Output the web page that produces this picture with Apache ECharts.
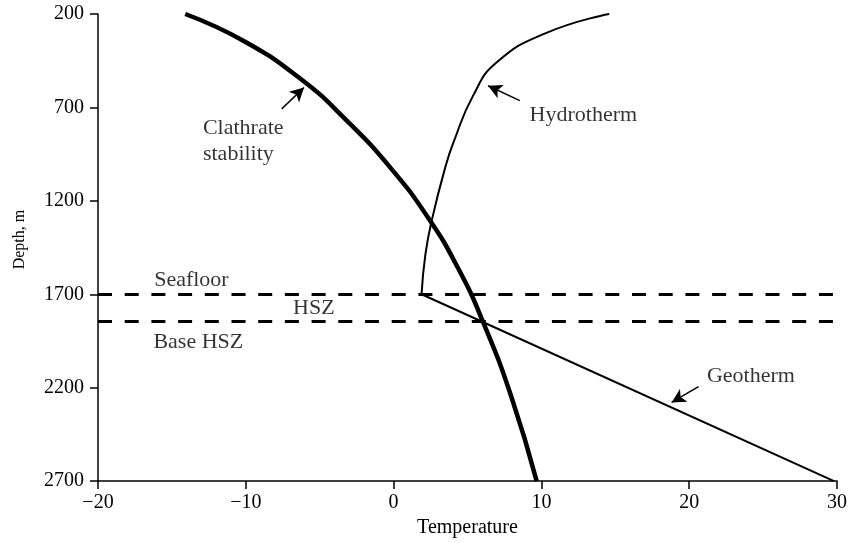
<!DOCTYPE html>
<html>
<head>
<meta charset="utf-8">
<script src="https://cdn.jsdelivr.net/npm/echarts@6/dist/echarts.min.js"></script>
<style>
  html, body { margin: 0; padding: 0; background: #fff; }
  #chart { width: 850px; height: 543px; }
</style>
</head>
<body>
<div id="chart"></div>
<script>
// temperature (x) vs depth (y)
var clathrateTemp  = [-14.1, -10.08, -6.26, -3.29, -0.18, 2.35, 4.34, 6.03, 7.96, 9.68];
var clathrateDepth = [200, 347, 549, 761, 1026, 1292, 1557, 1844, 2247, 2700];

var hydroTemp  = [14.59, 10.34, 6.96, 5.38, 4.07, 3.53, 2.59, 2.15, 1.89];
var hydroDepth = [200, 301, 460, 637, 883, 1011, 1302, 1488, 1700];

var geoTemp  = [1.89, 29.8];
var geoDepth = [1700, 2700];

var seafloorDepth = 1700;
var baseHszDepth = 1845;

// annotation texts and where they sit (left edge, middle) in data units
var noteText  = ['Clathrate\nstability', 'Hydrotherm', 'Geotherm', 'Seafloor', 'HSZ', 'Base HSZ'];
var noteTemp  = [-12.9, 9.2, 21.2, -16.2, -6.8, -16.25];
var noteDepth = [883, 740, 2141, 1626, 1775, 1955];

// arrows: [tailT, tailD, tipT, tipD]
var arrows = [
  [-7.57, 708, -6.06, 593],
  [8.54, 664, 6.39, 584],
  [20.63, 2194, 18.81, 2279]
];

function pairs(xs, ys) {
  return xs.map(function (x, i) { return [x, ys[i]]; });
}

var font = 'Liberation Serif, Times New Roman, serif';

var chart = echarts.init(document.getElementById('chart'));

var option = {
  animation: false,
  backgroundColor: '#fff',
  grid: { left: 98, right: 12, top: 14, bottom: 58 },
  xAxis: {
    type: 'value',
    min: -20,
    max: 30,
    interval: 10,
    name: 'Temperature',
    nameLocation: 'middle',
    nameGap: 33,
    nameTextStyle: { fontFamily: font, fontSize: 20, color: '#000' },
    axisLine: { onZero: false, lineStyle: { color: '#000', width: 1.5 } },
    axisTick: { length: 8, lineStyle: { color: '#000', width: 1.5 } },
    axisLabel: {
      margin: 12,
      fontFamily: font, fontSize: 20, color: '#000',
      formatter: function (v) { return String(v).replace('-', '\u2212'); }
    },
    splitLine: { show: false }
  },
  yAxis: {
    type: 'value',
    inverse: true,
    min: 200,
    max: 2700,
    interval: 500,
    name: 'Depth, m',
    nameLocation: 'middle',
    nameGap: 70,
    nameTextStyle: { fontFamily: font, fontSize: 16, color: '#000', padding: [0, 0, 0, 16] },
    axisLine: { onZero: false, lineStyle: { color: '#000', width: 1.5 } },
    axisTick: { length: 8, lineStyle: { color: '#000', width: 1.5 } },
    axisLabel: {
      margin: 14, fontFamily: font, fontSize: 20, color: '#000',
      formatter: function (v) { return String(v); }
    },
    splitLine: { show: false }
  },
  series: [
    {
      name: 'Hydrotherm',
      type: 'line',
      data: pairs(hydroTemp, hydroDepth),
      smooth: 0.5,
      symbol: 'none',
      lineStyle: { color: '#000', width: 2 },
      markLine: {
        silent: true,
        symbol: 'none',
        label: { show: false },
        lineStyle: { color: '#000', width: 3, type: [14, 12.7] },
        data: [{ yAxis: seafloorDepth }, { yAxis: baseHszDepth }]
      }
    },
    {
      name: 'Geotherm',
      type: 'line',
      data: pairs(geoTemp, geoDepth),
      symbol: 'none',
      lineStyle: { color: '#000', width: 2 },
      markLine: {
        silent: true,
        symbol: ['none', 'arrow'],
        symbolSize: [11, 14],
        label: { show: false },
        lineStyle: { color: '#000', width: 1.5, type: 'solid' },
        data: arrows.map(function (a) {
          return [{ coord: [a[0], a[1]] }, { coord: [a[2], a[3]] }];
        })
      }
    },
    {
      name: 'Clathrate stability',
      type: 'line',
      data: pairs(clathrateTemp, clathrateDepth),
      smooth: 0.5,
      symbol: 'none',
      lineStyle: { color: '#000', width: 4.5 }
    },
    {
      name: 'notes',
      type: 'scatter',
      symbolSize: 0,
      silent: true,
      data: noteText.map(function (t, i) {
        return { name: t, value: [noteTemp[i], noteDepth[i]] };
      }),
      label: {
        show: true,
        position: 'right',
        distance: 0,
        formatter: function (p) { return p.name; },
        fontFamily: font,
        fontSize: 22,
        lineHeight: 26,
        color: '#000'
      }
    }
  ]
};

chart.setOption(option);
</script>
</body>
</html>
